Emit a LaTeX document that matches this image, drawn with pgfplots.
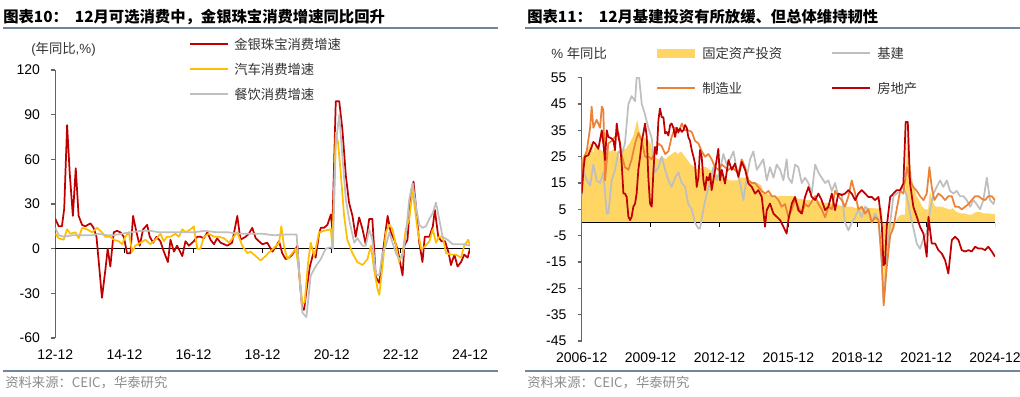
\documentclass[border=0pt]{standalone}
\usepackage{pgfplots}
\pgfplotsset{compat=1.18}
\usepackage{fontspec}
\setmainfont{Liberation Sans}
\newfontfamily\cjk{Noto Sans CJK SC}
\definecolor{jred}{RGB}{192,0,0}
\definecolor{jyel}{RGB}{255,190,0}
\definecolor{jgray}{RGB}{191,191,191}
\definecolor{fai}{RGB}{255,213,100}
\definecolor{morange}{RGB}{235,130,55}
\definecolor{rulec}{RGB}{110,135,160}
\definecolor{axc}{RGB}{100,100,100}
\definecolor{srcc}{RGB}{140,140,140}
\definecolor{txtc}{RGB}{50,50,50}
\pgfplotsset{myax/.style={scale only axis, anchor=south west,
  axis y line*=left, axis x line*=bottom,
  x axis line style={draw=none}, xtick style={draw=none},
  y axis line style={axc, line width=0.8pt},
  ytick style={axc, line width=0.8pt},
  tick align=outside, major tick length=3pt,
  tick label style={font=\fontsize{10.5}{12}\selectfont, /pgf/number format/assume math mode=true},
  yticklabel style={xshift=-5pt},
  xticklabel style={yshift=-2pt},
  every axis plot/.append style={line width=1.3pt, line join=round},
}}
\begin{document}
\begin{tikzpicture}[x=0.75pt,y=-0.75pt]
\useasboundingbox (0,0) rectangle (1020,396);
% titles
\node[anchor=west, inner sep=0] at (3,17) {\fontsize{11.5}{13}\selectfont\bfseries\cjk 图表10：\ \ 12月可选消费中，金银珠宝消费增速同比回升};
\node[anchor=west, inner sep=0] at (527,17) {\fontsize{11.5}{13}\selectfont\bfseries\cjk 图表11：\ \ 12月基建投资有所放缓、但总体维持韧性};
\draw[rulec, line width=0.8pt] (3,28) -- (498,28);
\draw[rulec, line width=0.8pt] (525,28) -- (1020,28);
\draw[rulec, line width=0.8pt] (3,371) -- (498,371);
\draw[rulec, line width=0.8pt] (525,371) -- (1020,371);
\node[anchor=west, inner sep=0, srcc] at (5,383) {\fontsize{10}{12}\selectfont\cjk 资料来源：CEIC，华泰研究};
\node[anchor=west, inner sep=0, srcc] at (527,383) {\fontsize{10}{12}\selectfont\cjk 资料来源：CEIC，华泰研究};
% left legend
\node[anchor=west, inner sep=0, txtc] at (31,49) {\fontsize{10}{12}\selectfont(\cjk 年同比\normalfont,\%)};
\draw[jred, line width=1.3pt] (190,44) -- (228,44);
\draw[jyel, line width=1.3pt] (190,69) -- (228,69);
\draw[jgray, line width=1.3pt] (190,94) -- (228,94);
\node[anchor=west, inner sep=0, txtc] at (234,44) {\fontsize{10}{12}\selectfont\cjk 金银珠宝消费增速};
\node[anchor=west, inner sep=0, txtc] at (234,69) {\fontsize{10}{12}\selectfont\cjk 汽车消费增速};
\node[anchor=west, inner sep=0, txtc] at (234,94) {\fontsize{10}{12}\selectfont\cjk 餐饮消费增速};
% right legend
\node[anchor=west, inner sep=0, txtc] at (551,53) {\fontsize{10}{12}\selectfont\% {\cjk 年同比}};
\fill[fai] (657,48.5) rectangle (695,58);
\node[anchor=west, inner sep=0, txtc] at (702,53) {\fontsize{10}{12}\selectfont\cjk 固定资产投资};
\draw[jgray, line width=1.3pt] (832,53) -- (870,53);
\node[anchor=west, inner sep=0, txtc] at (877,53) {\fontsize{10}{12}\selectfont\cjk 基建};
\draw[morange, line width=1.3pt] (657,88) -- (695,88);
\node[anchor=west, inner sep=0, txtc] at (702,88) {\fontsize{10}{12}\selectfont\cjk 制造业};
\draw[jred, line width=1.3pt] (832,88) -- (870,88);
\node[anchor=west, inner sep=0, txtc] at (877,88) {\fontsize{10}{12}\selectfont\cjk 房地产};

% ---------------- left chart
\begin{axis}[myax, at={(41.475pt,-253.5pt)}, width=311pt, height=201pt,
  xmin=0, xmax=144, ymin=-60, ymax=120,
  ytick={-60,-30,...,120}, xtick={0,24,...,144},
  xticklabels={12-12,14-12,16-12,18-12,20-12,22-12,24-12}]
\addplot[black, line width=0.8pt, forget plot] coordinates {(0,0)(144,0)};
\draw[black, line width=0.8pt] (axis cs:24,0) -- ++(0pt,-3pt);
\draw[black, line width=0.8pt] (axis cs:48,0) -- ++(0pt,-3pt);
\draw[black, line width=0.8pt] (axis cs:72,0) -- ++(0pt,-3pt);
\draw[black, line width=0.8pt] (axis cs:96,0) -- ++(0pt,-3pt);
\draw[black, line width=0.8pt] (axis cs:120,0) -- ++(0pt,-3pt);
\draw[black, line width=0.8pt] (axis cs:144,0) -- ++(0pt,-3pt);
% gold & jewellery
\addplot[jred] coordinates {(0,20)(1.2,15)(2.3,15)(3.1,27)(4.1,83)(5,51)(6.1,22)(7.1,54)(8.1,22)(9.3,16)(10.4,15)(12.2,17)(13.3,14)(14.3,8)(15.1,-9)(16.2,-33)(17.4,-14)(18.2,0)(19.1,-12)(20.3,11)(21.4,12)(22.6,11)(23.8,8)(24.9,-3)(26.1,-3)(27,22)(28.2,11)(29.3,2)(30.5,13)(31.9,16)(32.8,8)(34,4)(35.1,8)(36.5,5)(37.7,-2)(39.1,-9)(40,6)(41.2,-2)(42.3,2)(44.1,-5)(45.2,5)(46.4,2)(48.1,5)(49.3,8)(50.4,8)(51.6,7)(52.8,11)(53.9,6)(55.1,3)(56.2,7)(57.4,4)(58.6,3)(59.7,2)(61.4,4)(63.2,22)(64.3,6)(66.1,8)(67.2,10)(68.4,14)(69.6,7)(70.7,5)(71.9,3)(73.6,4)(75.4,-2)(76.5,1)(77.7,5)(78.8,-3)(80,-7)(81.2,-6)(82.3,-4)(83.5,0)(84.1,2)(84.6,-15)(85.8,-41)(86.4,-41)(87.3,-27)(88.4,-12)(89.6,-3)(90.4,-6)(91.6,10)(92.2,14)(93.3,14)(94.5,16)(95.7,23)(96.2,13)(97.4,99)(98.6,99)(99.7,80)(100.9,49)(102,31)(103.2,22)(104.3,8)(105.5,21)(106.7,13)(107.8,3)(109,20)(110.1,20)(111.3,-19)(112.5,-23)(113.6,-5)(115.4,22)(116.5,11)(117.7,6)(118.8,0)(120,-12)(120.6,-18)(121.2,2)(122.3,6)(123.5,38)(124.4,45)(125.2,29)(126.4,4)(127.5,-9)(128.3,8)(129.9,8)(131.1,15)(131.8,26)(133,8)(134.1,5)(135.3,5)(136.5,-2)(137.4,-11)(138.6,-4)(139.7,-12)(140.9,-9)(142,-4)(143.2,-6)(144,0)};
% autos
\addplot[jyel] coordinates {(0,10)(1.2,7)(2.9,6)(4.1,13)(5.2,10)(7,11)(8.1,7)(9.3,14)(11,13)(12.8,11)(14.5,14)(16.2,11)(17.4,8)(19.1,8)(20.3,6)(22,5)(23.2,3)(24.3,8)(25.5,11)(26.7,-2)(27.8,2)(29.6,4)(31.3,6)(33,3)(34.8,6)(36.5,10)(37.7,5)(38.8,8)(40,8)(41.7,10)(42.9,8)(44.1,13)(45.2,11)(47,13)(48.1,15)(49.3,0)(50.4,0)(51.6,8)(53.3,10)(55.1,8)(56.8,8)(58.6,7)(60.3,4)(62,8)(63.2,11)(64.9,2)(66.7,-3)(67.8,-2)(69.6,-5)(71.3,-8)(73,-5)(73.9,-3)(75.7,0)(77.7,4)(78.5,15)(79.4,2)(80.6,-7)(82.3,-3)(83.5,0)(84.6,-14)(85.8,-37)(86.6,-36)(87.8,-9)(88.7,4)(89.9,-5)(91.6,11)(93.3,12)(95.7,13)(96.2,1)(97.4,78)(98.2,71)(99.1,51)(100.3,22)(101.4,6)(103.2,-3)(104.9,-9)(106.7,-11)(108.4,-7)(109.6,2)(110.7,-14)(111.9,-27)(112.5,-31)(113.6,-12)(114.8,11)(116,16)(117.1,13)(118.3,2)(119.4,-9)(120.6,-3)(121.7,13)(122.9,20)(124.1,40)(124.6,31)(125.8,13)(127,0)(128.1,1)(129.9,5)(131.1,13)(132.2,4)(133.3,8)(134.5,8)(135.7,-3)(137.4,-4)(139.1,-4)(140.9,-6)(142,2)(143.4,6)(144,2)};
% catering
\addplot[jgray] coordinates {(0,14)(1.2,9)(3,8)(6,9)(10,9)(13,9)(15,10)(18,9)(20,9)(23,10)(26,11)(30,12)(33,12)(36,11)(40,11)(44,11)(48,11)(52,12)(56,11)(60,11)(64,10)(68,10)(72,10)(76,9)(80,9.5)(83.8,9.5)(84.6,-14)(85.8,-43)(87.2,-46)(88.7,-18)(90.4,-12)(92.2,-7)(93.9,0)(95.7,1)(96.4,0)(97.4,70)(98.6,90)(99.7,62)(100.9,33)(102,20)(103.8,4)(104.9,7)(106.7,2)(107.8,2)(109,13)(110.1,6)(111.3,-17)(112.5,-18)(113.6,-3)(114.8,2)(116,11)(117.1,4)(118.3,-3)(119.4,-7)(120.6,-5)(121.7,8)(122.9,33)(124.1,44)(125.2,29)(126.4,16)(127.5,14)(128.7,15)(129.9,20)(131.1,24)(132.2,31)(133.3,20)(134.5,8)(136.2,6)(138,3)(139.7,3)(142,3)(144,2)};
\end{axis}

% ---------------- right chart
\begin{axis}[myax, at={(436.275pt,-255.75pt)}, width=310pt, height=197.5pt,
  xmin=0, xmax=216, ymin=-45, ymax=55,
  ytick={-45,-35,...,55}, xtick={0,36,...,216},
  xticklabels={2006-12,2009-12,2012-12,2015-12,2018-12,2021-12,2024-12}]
% fixed asset investment
\addplot[fill=fai, draw=none, line width=0pt] coordinates {(0,24)(2,27)(4,29)(5,31)(6,26)(7,30)(9,28)(11,27)(12,24)(13,27)(15,27)(17,28)(19,26)(20,24)(21,28)(23,28)(25,30)(27,33)(28,36)(29,39)(30,35)(31,33)(33,32)(35,31)(36,30)(37,26)(38,25)(40,24)(42,25)(44,24)(45,25)(47,26)(49,27)(50,26)(52,27)(54,25)(55,24)(57,22)(59,21)(61,20)(63,21)(65,21)(67,20)(69,19)(71,18)(73,19)(75,17)(77,16)(79,16)(81,16)(83,17)(84,17)(86,17)(88,16)(90,15)(92,15)(94,14)(95,11)(97,11)(99,10)(101,9.5)(103,10)(105,10)(107,10)(109,10)(111,10)(113,9)(115,9)(117,8.5)(119,8.5)(121,8)(123,8)(125,8)(127,7.5)(129,7.5)(131,7)(133,7)(135,6.5)(137,6)(139,6)(141,6)(143,5.5)(145,5.5)(147,5.5)(149,5.5)(151,5.5)(153,5.4)(155,5.4)(157,5.4)(158,-24.5)(159,-16)(160,-10)(161,-6)(162,-3)(163,-1)(164,0.5)(165,1.5)(166,2.5)(167,3)(168,3)(169,3)(170,35)(171,26)(172,20)(173,15)(174,12.5)(175,10)(176,9)(177,7.5)(178,6)(179,5.2)(180,5)(181,5)(182,12)(183,9)(184,7)(185,6)(186,6)(188,6)(190,5.5)(192,5)(193,5)(194,5.5)(195,4.5)(196,4)(198,3.5)(200,3.5)(202,3)(204,3)(206,4)(208,4)(210,3.5)(212,3.5)(214,3.3)(216,3.2)} \closedcycle;
\addplot[black, line width=0.8pt, forget plot] coordinates {(0,0)(216,0)};
\draw[black, line width=0.8pt] (axis cs:36,0) -- ++(0pt,-3pt);
\draw[black, line width=0.8pt] (axis cs:72,0) -- ++(0pt,-3pt);
\draw[black, line width=0.8pt] (axis cs:108,0) -- ++(0pt,-3pt);
\draw[black, line width=0.8pt] (axis cs:144,0) -- ++(0pt,-3pt);
\draw[black, line width=0.8pt] (axis cs:180,0) -- ++(0pt,-3pt);
\draw[black, line width=0.8pt] (axis cs:216,0) -- ++(0pt,-3pt);
% infrastructure
\addplot[jgray] coordinates {(0,10)(0.9,20)(2.6,16)(4.4,14)(6.1,22)(7.8,16)(9.6,15)(11.3,19)(13.1,3.4)(13.9,3.4)(15.7,16)(17.4,20)(19.2,27)(20.9,26)(22.6,30)(24.4,45)(26.1,48)(27.9,46)(28.7,55)(30,55)(31.4,45)(33.1,41)(34.8,36)(36.6,32)(38.3,19)(40.1,21)(41.8,25)(43.6,20)(45.3,16)(47,13.5)(48.8,17)(50.5,19)(52.3,15)(54,13.5)(55.7,7)(57.5,5)(59.2,0)(61,-2.3)(61.8,-2.3)(63.6,5)(65.3,11)(67.1,15)(68.8,21)(70.6,16)(72.3,20)(74,26)(75.8,22)(77.5,24)(79.3,27)(81,20)(82.8,15)(84.5,8.5)(86.2,17)(88,24)(89.7,27)(91.5,20)(93.2,22)(94.9,24)(96.7,16)(98.4,21)(100.2,17)(101.9,22)(103.7,20)(105.4,16)(107.1,24)(108,17)(109.8,15)(111.5,22)(113.2,21)(115,15)(116.7,17)(118.5,15)(120.2,11)(122,22)(123.7,19)(125.4,17)(127.2,15)(128.9,16)(130.7,12)(132.4,15)(134.1,10)(135.9,11)(137.6,0)(139.4,-3)(141.1,0)(142.9,2)(144.6,5)(146.3,2)(148.1,6)(149.8,5)(151.6,0)(153.3,3.4)(155.1,1)(156.8,-16)(157.8,-30)(159.4,-14)(161.2,0)(162.9,10)(164.6,11)(166.4,12)(168.1,13.5)(169.9,10)(171.6,3.4)(173.3,-2)(175.1,-8)(176.8,-10)(178.6,-6)(180.3,-4)(182.1,5)(183.8,11)(185.5,13.5)(187.3,16)(189,13.5)(190.8,16)(192.5,12)(194.2,11)(196,12)(197.7,10)(199.5,10)(201.2,8.5)(203,6)(204.7,8.5)(206.4,7)(208.2,5)(209.9,8.5)(211.7,17)(213.4,8.5)(215.2,7)(216,9)};
% manufacturing
\addplot[morange] coordinates {(0,14)(0.9,24)(2.6,27)(4.4,36)(5.2,44)(6.1,36)(7.8,39)(9.6,36)(10.5,44)(11.3,43)(12.2,16)(13.9,30)(15.7,31)(17.4,32.5)(19.2,34)(20.9,25.6)(22.6,21)(24.4,20)(26.1,24)(27.9,30)(29.6,34)(31.4,31)(33.1,25)(34.8,25)(36.6,24)(38.3,27)(40.1,30)(41.8,29)(43.6,26)(45.3,27)(47,32.5)(48.8,36)(50.5,34)(52.3,37.6)(54,35)(55.7,35)(57.5,34.4)(59.2,31)(61,30)(62.7,27)(64.5,25)(66.2,26)(67.9,24)(69.7,21)(71.4,20)(73.2,22)(74.9,21)(76.7,20)(78.4,21)(80.1,20)(81.9,18.6)(83.6,24)(85.4,21)(87.1,16)(88.9,15)(90.6,15)(92.3,13.5)(94.1,12)(95.8,11)(97.6,12)(99.3,10)(101,10)(102.8,8.5)(104.5,6)(106.3,7)(108,2)(109.8,5)(111.5,8.5)(113.2,6)(115,3.4)(116.7,7)(118.5,6)(120.2,8)(122,10)(123.7,7)(125.4,5)(127.2,2)(128.9,6)(130.7,5)(132.4,12)(134.1,10)(135.9,8.5)(137.6,6)(139.4,10)(141.1,16)(142.9,11)(144.6,5)(146.3,6)(148.1,3.4)(149.8,5)(151.6,0)(153.3,2)(155.1,1)(156.8,-14)(157.8,-31.5)(159.4,-17)(161.2,-5)(162.9,-2)(164.6,5)(166.4,12)(168.1,11)(169.9,21)(171.6,16)(173.3,13.5)(175.1,12)(176.8,10)(178.6,8.5)(180.3,11)(181.7,21)(182.9,13.5)(184.3,8.5)(186.4,11)(188.2,10)(189.9,8.5)(191.6,10)(193.4,10)(195.1,6)(196.9,6)(198.6,5)(200.4,6)(202.1,7)(203.8,8.5)(205.6,10)(207.3,10)(209.1,9)(210.8,8.5)(212.5,10)(214.3,10)(216,8.5)};
% real estate
\addplot[jred] coordinates {(0,11)(0.9,20)(1.7,25)(3.5,25.6)(5.2,28.7)(6.1,30.6)(7,30)(8.7,28)(10.5,35)(11.3,30)(12.2,23.7)(13.1,35)(13.9,32.5)(15.7,31.9)(16.6,31)(17.4,27.5)(18.3,37.6)(19.2,32.5)(20,30)(20.9,22.4)(21.8,11)(22.6,11)(23.5,9.7)(24.4,2.2)(25.3,0.9)(26.1,2.2)(27,6)(27.9,7.2)(28.7,11)(29.6,20)(30.5,25)(31.4,31)(32.2,33.8)(33.1,37.6)(34,32.5)(34.8,17.3)(35.7,7.2)(36.6,6)(37.5,20)(38.3,28.7)(39.2,26)(40.1,38.9)(40.9,43.3)(41.8,40)(42.7,40)(43.6,33.8)(44.4,34.4)(45.3,33)(46.2,37)(47,37.6)(47.9,36)(48.8,32.5)(49.7,36)(50.5,34.4)(51.4,35.7)(52.3,34.4)(53.1,35)(54,37)(54.9,36)(55.7,32.5)(56.6,31)(57.5,27.5)(58.4,25)(59.2,22.4)(60.1,13.5)(61,17.3)(61.8,27.5)(62.7,25)(63.6,16)(64.5,12.3)(65.3,17.3)(66.2,16)(67.1,18.6)(67.9,12.3)(69.7,20)(71.4,28)(72.3,16)(73.2,20)(74.9,14.8)(76.7,23.7)(78.4,20)(80.1,22.4)(81.9,17.3)(83.6,23)(85.4,20)(87.1,14.8)(88.9,13.5)(90.6,11)(92.3,12.3)(94.1,9.7)(95.8,-1.6)(96.7,4.7)(98.4,7.2)(100.2,3.4)(101.9,2.2)(103.7,0.9)(105.4,-1.6)(107.1,-4.2)(108,1)(109.8,7.2)(111.5,9.7)(113.2,4.7)(115,3.4)(116.7,9.7)(118.5,13.5)(120.2,9.7)(122,8.5)(123.7,11)(125.4,8.5)(127.2,4.7)(128.9,6)(130.7,11)(132.4,4.7)(134.1,11)(135.9,10.4)(137.6,11)(139.4,12.3)(141.1,11)(142.9,8.5)(144.6,11)(146.3,12.3)(148.1,11)(149.8,9.7)(151.6,9.7)(153.3,8.5)(155.1,9.7)(156.8,-0.4)(157.7,-16.2)(158.5,-15.6)(159.4,-1.6)(161.2,9.7)(162.9,11)(164.6,12.3)(166.4,12.3)(168.1,14.8)(169.3,38.2)(170.4,38.2)(171.6,14.8)(173.3,6)(175.1,2.2)(176.8,-1.6)(178.6,-4.2)(180.3,-13)(181.2,2.2)(182.9,-8)(184.7,-8)(186.4,-10.5)(188.2,-11.8)(189.9,-14.3)(191.6,-19.4)(193.4,-6.7)(195.1,-5.4)(196.9,-6.7)(198.6,-10.5)(200.4,-11)(202.1,-10.5)(203.8,-11)(205.6,-9.2)(207.3,-9.9)(209.1,-9.9)(210.8,-10.5)(212.5,-9.2)(214.3,-11)(216,-13)};
\end{axis}
\end{tikzpicture}
\end{document}
